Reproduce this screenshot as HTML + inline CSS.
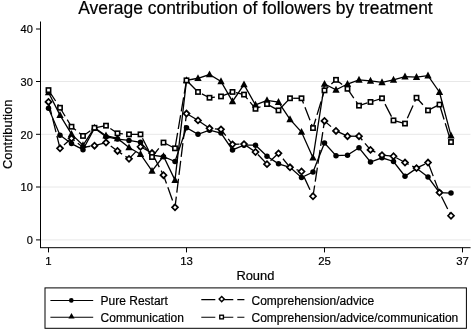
<!DOCTYPE html>
<html><head><meta charset="utf-8"><style>
html,body{margin:0;padding:0;background:#fff;}
text{stroke:#000;stroke-width:0.2px;}
svg{display:block;will-change:transform;transform:translateZ(0);font-family:"Liberation Sans",sans-serif;fill:#000;}
</style></head><body>
<svg width="472" height="331" viewBox="0 0 472 331">
<rect width="472" height="331" fill="#fff"/>
<line x1="41" y1="239.90" x2="470.5" y2="239.90" stroke="#e8e8e8" stroke-width="1"/>
<line x1="41" y1="187.00" x2="470.5" y2="187.00" stroke="#e8e8e8" stroke-width="1"/>
<line x1="41" y1="134.30" x2="470.5" y2="134.30" stroke="#e8e8e8" stroke-width="1"/>
<line x1="41" y1="81.50" x2="470.5" y2="81.50" stroke="#e8e8e8" stroke-width="1"/>
<polyline points="48.50,108.28 60.00,135.15 71.50,143.58 83.00,149.64 94.50,128.30 106.00,136.73 117.50,139.10 129.00,140.42 140.50,142.26 152.00,155.17 163.50,156.75 175.00,161.50 186.50,127.78 198.00,134.36 209.50,130.15 221.00,133.04 232.50,149.90 244.00,145.16 255.50,145.16 267.00,156.23 278.50,163.87 290.00,167.29 301.50,177.57 313.00,172.03 324.50,143.06 336.00,155.70 347.50,155.17 359.00,147.80 370.50,162.02 382.00,157.81 393.50,161.50 405.00,176.25 416.50,168.34 428.00,177.04 439.50,192.58 451.00,193.11" fill="none" stroke="#000" stroke-width="1.3"/>
<circle cx="48.50" cy="108.28" r="2.75" fill="#000"/>
<circle cx="60.00" cy="135.15" r="2.75" fill="#000"/>
<circle cx="71.50" cy="143.58" r="2.75" fill="#000"/>
<circle cx="83.00" cy="149.64" r="2.75" fill="#000"/>
<circle cx="94.50" cy="128.30" r="2.75" fill="#000"/>
<circle cx="106.00" cy="136.73" r="2.75" fill="#000"/>
<circle cx="117.50" cy="139.10" r="2.75" fill="#000"/>
<circle cx="129.00" cy="140.42" r="2.75" fill="#000"/>
<circle cx="140.50" cy="142.26" r="2.75" fill="#000"/>
<circle cx="152.00" cy="155.17" r="2.75" fill="#000"/>
<circle cx="163.50" cy="156.75" r="2.75" fill="#000"/>
<circle cx="175.00" cy="161.50" r="2.75" fill="#000"/>
<circle cx="186.50" cy="127.78" r="2.75" fill="#000"/>
<circle cx="198.00" cy="134.36" r="2.75" fill="#000"/>
<circle cx="209.50" cy="130.15" r="2.75" fill="#000"/>
<circle cx="221.00" cy="133.04" r="2.75" fill="#000"/>
<circle cx="232.50" cy="149.90" r="2.75" fill="#000"/>
<circle cx="244.00" cy="145.16" r="2.75" fill="#000"/>
<circle cx="255.50" cy="145.16" r="2.75" fill="#000"/>
<circle cx="267.00" cy="156.23" r="2.75" fill="#000"/>
<circle cx="278.50" cy="163.87" r="2.75" fill="#000"/>
<circle cx="290.00" cy="167.29" r="2.75" fill="#000"/>
<circle cx="301.50" cy="177.57" r="2.75" fill="#000"/>
<circle cx="313.00" cy="172.03" r="2.75" fill="#000"/>
<circle cx="324.50" cy="143.06" r="2.75" fill="#000"/>
<circle cx="336.00" cy="155.70" r="2.75" fill="#000"/>
<circle cx="347.50" cy="155.17" r="2.75" fill="#000"/>
<circle cx="359.00" cy="147.80" r="2.75" fill="#000"/>
<circle cx="370.50" cy="162.02" r="2.75" fill="#000"/>
<circle cx="382.00" cy="157.81" r="2.75" fill="#000"/>
<circle cx="393.50" cy="161.50" r="2.75" fill="#000"/>
<circle cx="405.00" cy="176.25" r="2.75" fill="#000"/>
<circle cx="416.50" cy="168.34" r="2.75" fill="#000"/>
<circle cx="428.00" cy="177.04" r="2.75" fill="#000"/>
<circle cx="439.50" cy="192.58" r="2.75" fill="#000"/>
<circle cx="451.00" cy="193.11" r="2.75" fill="#000"/>
<polyline points="48.50,92.47 60.00,115.13 71.50,134.10 83.00,145.32 94.50,127.78 106.00,135.68 117.50,138.42 129.00,147.53 140.50,154.12 152.00,170.98 163.50,156.23 175.00,180.09 186.50,80.36 198.00,78.25 209.50,74.56 221.00,81.41 232.50,101.43 244.00,84.57 255.50,104.96 267.00,100.38 278.50,102.12 290.00,119.35 301.50,131.99 313.00,157.81 324.50,84.04 336.00,89.84 347.50,84.04 359.00,79.83 370.50,80.88 382.00,82.46 393.50,79.83 405.00,76.67 416.50,77.20 428.00,75.62 439.50,92.21 451.00,135.68" fill="none" stroke="#000" stroke-width="1.3"/>
<path d="M44.85,95.27 L52.15,95.27 L48.50,88.38 Z" fill="#000"/>
<path d="M56.35,117.93 L63.65,117.93 L60.00,111.03 Z" fill="#000"/>
<path d="M67.85,136.90 L75.15,136.90 L71.50,130.00 Z" fill="#000"/>
<path d="M79.35,148.12 L86.65,148.12 L83.00,141.22 Z" fill="#000"/>
<path d="M90.85,130.58 L98.15,130.58 L94.50,123.68 Z" fill="#000"/>
<path d="M102.35,138.48 L109.65,138.48 L106.00,131.58 Z" fill="#000"/>
<path d="M113.85,141.22 L121.15,141.22 L117.50,134.32 Z" fill="#000"/>
<path d="M125.35,150.33 L132.65,150.33 L129.00,143.43 Z" fill="#000"/>
<path d="M136.85,156.92 L144.15,156.92 L140.50,150.02 Z" fill="#000"/>
<path d="M148.35,173.78 L155.65,173.78 L152.00,166.88 Z" fill="#000"/>
<path d="M159.85,159.03 L167.15,159.03 L163.50,152.13 Z" fill="#000"/>
<path d="M171.35,182.89 L178.65,182.89 L175.00,175.99 Z" fill="#000"/>
<path d="M182.85,83.16 L190.15,83.16 L186.50,76.26 Z" fill="#000"/>
<path d="M194.35,81.05 L201.65,81.05 L198.00,74.15 Z" fill="#000"/>
<path d="M205.85,77.36 L213.15,77.36 L209.50,70.46 Z" fill="#000"/>
<path d="M217.35,84.21 L224.65,84.21 L221.00,77.31 Z" fill="#000"/>
<path d="M228.85,104.23 L236.15,104.23 L232.50,97.33 Z" fill="#000"/>
<path d="M240.35,87.37 L247.65,87.37 L244.00,80.47 Z" fill="#000"/>
<path d="M251.85,107.76 L259.15,107.76 L255.50,100.86 Z" fill="#000"/>
<path d="M263.35,103.18 L270.65,103.18 L267.00,96.28 Z" fill="#000"/>
<path d="M274.85,104.92 L282.15,104.92 L278.50,98.02 Z" fill="#000"/>
<path d="M286.35,122.15 L293.65,122.15 L290.00,115.25 Z" fill="#000"/>
<path d="M297.85,134.79 L305.15,134.79 L301.50,127.89 Z" fill="#000"/>
<path d="M309.35,160.61 L316.65,160.61 L313.00,153.71 Z" fill="#000"/>
<path d="M320.85,86.84 L328.15,86.84 L324.50,79.94 Z" fill="#000"/>
<path d="M332.35,92.64 L339.65,92.64 L336.00,85.74 Z" fill="#000"/>
<path d="M343.85,86.84 L351.15,86.84 L347.50,79.94 Z" fill="#000"/>
<path d="M355.35,82.63 L362.65,82.63 L359.00,75.73 Z" fill="#000"/>
<path d="M366.85,83.68 L374.15,83.68 L370.50,76.78 Z" fill="#000"/>
<path d="M378.35,85.26 L385.65,85.26 L382.00,78.36 Z" fill="#000"/>
<path d="M389.85,82.63 L397.15,82.63 L393.50,75.73 Z" fill="#000"/>
<path d="M401.35,79.47 L408.65,79.47 L405.00,72.57 Z" fill="#000"/>
<path d="M412.85,80.00 L420.15,80.00 L416.50,73.10 Z" fill="#000"/>
<path d="M424.35,78.42 L431.65,78.42 L428.00,71.52 Z" fill="#000"/>
<path d="M435.85,95.01 L443.15,95.01 L439.50,88.11 Z" fill="#000"/>
<path d="M447.35,138.48 L454.65,138.48 L451.00,131.58 Z" fill="#000"/>
<line x1="48.50" y1="101.96" x2="60.00" y2="148.32" stroke="#000" stroke-width="1.3" stroke-dasharray="14 4" stroke-dashoffset="1.00"/>
<line x1="60.00" y1="148.32" x2="71.50" y2="138.31" stroke="#000" stroke-width="1.3" stroke-dasharray="14 4" stroke-dashoffset="12.77"/>
<line x1="71.50" y1="138.31" x2="83.00" y2="147.27" stroke="#000" stroke-width="1.3" stroke-dasharray="14 4" stroke-dashoffset="10.02"/>
<line x1="83.00" y1="147.27" x2="94.50" y2="145.69" stroke="#000" stroke-width="1.3" stroke-dasharray="14 4" stroke-dashoffset="6.59"/>
<line x1="94.50" y1="145.69" x2="106.00" y2="142.53" stroke="#000" stroke-width="1.3" stroke-dasharray="14 4" stroke-dashoffset="0.20"/>
<line x1="106.00" y1="142.53" x2="117.50" y2="150.96" stroke="#000" stroke-width="1.3" stroke-dasharray="14 4" stroke-dashoffset="12.13"/>
<line x1="117.50" y1="150.96" x2="129.00" y2="158.86" stroke="#000" stroke-width="1.3" stroke-dasharray="14 4" stroke-dashoffset="8.39"/>
<line x1="129.00" y1="158.86" x2="140.50" y2="146.74" stroke="#000" stroke-width="1.3" stroke-dasharray="14 4" stroke-dashoffset="4.34"/>
<line x1="140.50" y1="146.74" x2="152.00" y2="153.07" stroke="#000" stroke-width="1.3" stroke-dasharray="14 4" stroke-dashoffset="3.05"/>
<line x1="152.00" y1="153.07" x2="163.50" y2="175.19" stroke="#000" stroke-width="1.3" stroke-dasharray="14 4" stroke-dashoffset="16.17"/>
<line x1="163.50" y1="175.19" x2="175.00" y2="207.33" stroke="#000" stroke-width="1.3" stroke-dasharray="14 4" stroke-dashoffset="5.11"/>
<line x1="175.00" y1="207.33" x2="186.50" y2="113.55" stroke="#000" stroke-width="1.3" stroke-dasharray="14 4" stroke-dashoffset="3.24"/>
<line x1="186.50" y1="113.55" x2="198.00" y2="120.40" stroke="#000" stroke-width="1.3" stroke-dasharray="14 4" stroke-dashoffset="3.23"/>
<line x1="198.00" y1="120.40" x2="209.50" y2="128.30" stroke="#000" stroke-width="1.3" stroke-dasharray="14 4" stroke-dashoffset="16.62"/>
<line x1="209.50" y1="128.30" x2="221.00" y2="129.36" stroke="#000" stroke-width="1.3" stroke-dasharray="14 4" stroke-dashoffset="12.57"/>
<line x1="221.00" y1="129.36" x2="232.50" y2="144.37" stroke="#000" stroke-width="1.3" stroke-dasharray="14 4" stroke-dashoffset="6.12"/>
<line x1="232.50" y1="144.37" x2="244.00" y2="144.11" stroke="#000" stroke-width="1.3" stroke-dasharray="14 4" stroke-dashoffset="7.03"/>
<line x1="244.00" y1="144.11" x2="255.50" y2="152.01" stroke="#000" stroke-width="1.3" stroke-dasharray="14 4" stroke-dashoffset="0.53"/>
<line x1="255.50" y1="152.01" x2="267.00" y2="164.13" stroke="#000" stroke-width="1.3" stroke-dasharray="14 4" stroke-dashoffset="14.49"/>
<line x1="267.00" y1="164.13" x2="278.50" y2="153.33" stroke="#000" stroke-width="1.3" stroke-dasharray="14 4" stroke-dashoffset="13.19"/>
<line x1="278.50" y1="153.33" x2="290.00" y2="167.29" stroke="#000" stroke-width="1.3" stroke-dasharray="14 4" stroke-dashoffset="10.97"/>
<line x1="290.00" y1="167.29" x2="301.50" y2="171.51" stroke="#000" stroke-width="1.3" stroke-dasharray="14 4" stroke-dashoffset="11.06"/>
<line x1="301.50" y1="171.51" x2="313.00" y2="196.27" stroke="#000" stroke-width="1.3" stroke-dasharray="14 4" stroke-dashoffset="11.81"/>
<line x1="313.00" y1="196.27" x2="324.50" y2="120.93" stroke="#000" stroke-width="1.3" stroke-dasharray="14 4" stroke-dashoffset="3.11"/>
<line x1="324.50" y1="120.93" x2="336.00" y2="130.94" stroke="#000" stroke-width="1.3" stroke-dasharray="14 4" stroke-dashoffset="5.33"/>
<line x1="336.00" y1="130.94" x2="347.50" y2="136.21" stroke="#000" stroke-width="1.3" stroke-dasharray="14 4" stroke-dashoffset="2.57"/>
<line x1="347.50" y1="136.21" x2="359.00" y2="136.21" stroke="#000" stroke-width="1.3" stroke-dasharray="14 4" stroke-dashoffset="15.22"/>
<line x1="359.00" y1="136.21" x2="370.50" y2="149.90" stroke="#000" stroke-width="1.3" stroke-dasharray="14 4" stroke-dashoffset="8.72"/>
<line x1="370.50" y1="149.90" x2="382.00" y2="155.17" stroke="#000" stroke-width="1.3" stroke-dasharray="14 4" stroke-dashoffset="8.61"/>
<line x1="382.00" y1="155.17" x2="393.50" y2="156.23" stroke="#000" stroke-width="1.3" stroke-dasharray="14 4" stroke-dashoffset="3.26"/>
<line x1="393.50" y1="156.23" x2="405.00" y2="162.55" stroke="#000" stroke-width="1.3" stroke-dasharray="14 4" stroke-dashoffset="14.81"/>
<line x1="405.00" y1="162.55" x2="416.50" y2="168.08" stroke="#000" stroke-width="1.3" stroke-dasharray="14 4" stroke-dashoffset="9.93"/>
<line x1="416.50" y1="168.08" x2="428.00" y2="162.55" stroke="#000" stroke-width="1.3" stroke-dasharray="14 4" stroke-dashoffset="4.69"/>
<line x1="428.00" y1="162.55" x2="439.50" y2="192.58" stroke="#000" stroke-width="1.3" stroke-dasharray="14 4" stroke-dashoffset="17.45"/>
<line x1="439.50" y1="192.58" x2="451.00" y2="215.76" stroke="#000" stroke-width="1.3" stroke-dasharray="14 4" stroke-dashoffset="13.61"/>
<path d="M45.50,101.96 L48.50,98.96 L51.50,101.96 L48.50,104.96 Z" fill="#fff" stroke="#000" stroke-width="1.70"/>
<path d="M57.00,148.32 L60.00,145.32 L63.00,148.32 L60.00,151.32 Z" fill="#fff" stroke="#000" stroke-width="1.70"/>
<path d="M68.50,138.31 L71.50,135.31 L74.50,138.31 L71.50,141.31 Z" fill="#fff" stroke="#000" stroke-width="1.70"/>
<path d="M91.50,145.69 L94.50,142.69 L97.50,145.69 L94.50,148.69 Z" fill="#fff" stroke="#000" stroke-width="1.70"/>
<path d="M103.00,142.53 L106.00,139.53 L109.00,142.53 L106.00,145.53 Z" fill="#fff" stroke="#000" stroke-width="1.70"/>
<path d="M114.50,150.96 L117.50,147.96 L120.50,150.96 L117.50,153.96 Z" fill="#fff" stroke="#000" stroke-width="1.70"/>
<path d="M126.00,158.86 L129.00,155.86 L132.00,158.86 L129.00,161.86 Z" fill="#fff" stroke="#000" stroke-width="1.70"/>
<path d="M137.50,146.74 L140.50,143.74 L143.50,146.74 L140.50,149.74 Z" fill="#fff" stroke="#000" stroke-width="1.70"/>
<path d="M149.00,153.07 L152.00,150.07 L155.00,153.07 L152.00,156.07 Z" fill="#fff" stroke="#000" stroke-width="1.70"/>
<path d="M160.50,175.19 L163.50,172.19 L166.50,175.19 L163.50,178.19 Z" fill="#fff" stroke="#000" stroke-width="1.70"/>
<path d="M172.00,207.33 L175.00,204.33 L178.00,207.33 L175.00,210.33 Z" fill="#fff" stroke="#000" stroke-width="1.70"/>
<path d="M183.50,113.55 L186.50,110.55 L189.50,113.55 L186.50,116.55 Z" fill="#fff" stroke="#000" stroke-width="1.70"/>
<path d="M195.00,120.40 L198.00,117.40 L201.00,120.40 L198.00,123.40 Z" fill="#fff" stroke="#000" stroke-width="1.70"/>
<path d="M206.50,128.30 L209.50,125.30 L212.50,128.30 L209.50,131.30 Z" fill="#fff" stroke="#000" stroke-width="1.70"/>
<path d="M218.00,129.36 L221.00,126.36 L224.00,129.36 L221.00,132.36 Z" fill="#fff" stroke="#000" stroke-width="1.70"/>
<path d="M229.50,144.37 L232.50,141.37 L235.50,144.37 L232.50,147.37 Z" fill="#fff" stroke="#000" stroke-width="1.70"/>
<path d="M241.00,144.11 L244.00,141.11 L247.00,144.11 L244.00,147.11 Z" fill="#fff" stroke="#000" stroke-width="1.70"/>
<path d="M252.50,152.01 L255.50,149.01 L258.50,152.01 L255.50,155.01 Z" fill="#fff" stroke="#000" stroke-width="1.70"/>
<path d="M264.00,164.13 L267.00,161.13 L270.00,164.13 L267.00,167.13 Z" fill="#fff" stroke="#000" stroke-width="1.70"/>
<path d="M275.50,153.33 L278.50,150.33 L281.50,153.33 L278.50,156.33 Z" fill="#fff" stroke="#000" stroke-width="1.70"/>
<path d="M287.00,167.29 L290.00,164.29 L293.00,167.29 L290.00,170.29 Z" fill="#fff" stroke="#000" stroke-width="1.70"/>
<path d="M298.50,171.51 L301.50,168.51 L304.50,171.51 L301.50,174.51 Z" fill="#fff" stroke="#000" stroke-width="1.70"/>
<path d="M310.00,196.27 L313.00,193.27 L316.00,196.27 L313.00,199.27 Z" fill="#fff" stroke="#000" stroke-width="1.70"/>
<path d="M321.50,120.93 L324.50,117.93 L327.50,120.93 L324.50,123.93 Z" fill="#fff" stroke="#000" stroke-width="1.70"/>
<path d="M333.00,130.94 L336.00,127.94 L339.00,130.94 L336.00,133.94 Z" fill="#fff" stroke="#000" stroke-width="1.70"/>
<path d="M344.50,136.21 L347.50,133.21 L350.50,136.21 L347.50,139.21 Z" fill="#fff" stroke="#000" stroke-width="1.70"/>
<path d="M356.00,136.21 L359.00,133.21 L362.00,136.21 L359.00,139.21 Z" fill="#fff" stroke="#000" stroke-width="1.70"/>
<path d="M367.50,149.90 L370.50,146.90 L373.50,149.90 L370.50,152.90 Z" fill="#fff" stroke="#000" stroke-width="1.70"/>
<path d="M379.00,155.17 L382.00,152.17 L385.00,155.17 L382.00,158.17 Z" fill="#fff" stroke="#000" stroke-width="1.70"/>
<path d="M390.50,156.23 L393.50,153.23 L396.50,156.23 L393.50,159.23 Z" fill="#fff" stroke="#000" stroke-width="1.70"/>
<path d="M402.00,162.55 L405.00,159.55 L408.00,162.55 L405.00,165.55 Z" fill="#fff" stroke="#000" stroke-width="1.70"/>
<path d="M413.50,168.08 L416.50,165.08 L419.50,168.08 L416.50,171.08 Z" fill="#fff" stroke="#000" stroke-width="1.70"/>
<path d="M425.00,162.55 L428.00,159.55 L431.00,162.55 L428.00,165.55 Z" fill="#fff" stroke="#000" stroke-width="1.70"/>
<path d="M436.50,192.58 L439.50,189.58 L442.50,192.58 L439.50,195.58 Z" fill="#fff" stroke="#000" stroke-width="1.70"/>
<path d="M448.00,215.76 L451.00,212.76 L454.00,215.76 L451.00,218.76 Z" fill="#fff" stroke="#000" stroke-width="1.70"/>
<line x1="48.50" y1="90.10" x2="60.00" y2="107.75" stroke="#000" stroke-width="1.3" stroke-dasharray="14 4" stroke-dashoffset="1.00"/>
<line x1="60.00" y1="107.75" x2="71.50" y2="126.72" stroke="#000" stroke-width="1.3" stroke-dasharray="14 4" stroke-dashoffset="4.07"/>
<line x1="71.50" y1="126.72" x2="83.00" y2="135.94" stroke="#000" stroke-width="1.3" stroke-dasharray="14 4" stroke-dashoffset="8.25"/>
<line x1="83.00" y1="135.94" x2="94.50" y2="127.78" stroke="#000" stroke-width="1.3" stroke-dasharray="14 4" stroke-dashoffset="4.99"/>
<line x1="94.50" y1="127.78" x2="106.00" y2="125.67" stroke="#000" stroke-width="1.3" stroke-dasharray="14 4" stroke-dashoffset="1.09"/>
<line x1="106.00" y1="125.67" x2="117.50" y2="133.31" stroke="#000" stroke-width="1.3" stroke-dasharray="14 4" stroke-dashoffset="12.78"/>
<line x1="117.50" y1="133.31" x2="129.00" y2="134.36" stroke="#000" stroke-width="1.3" stroke-dasharray="14 4" stroke-dashoffset="8.59"/>
<line x1="129.00" y1="134.36" x2="140.50" y2="134.36" stroke="#000" stroke-width="1.3" stroke-dasharray="14 4" stroke-dashoffset="2.14"/>
<line x1="140.50" y1="134.36" x2="152.00" y2="157.02" stroke="#000" stroke-width="1.3" stroke-dasharray="14 4" stroke-dashoffset="13.64"/>
<line x1="152.00" y1="157.02" x2="163.50" y2="142.53" stroke="#000" stroke-width="1.3" stroke-dasharray="14 4" stroke-dashoffset="3.05"/>
<line x1="163.50" y1="142.53" x2="175.00" y2="148.32" stroke="#000" stroke-width="1.3" stroke-dasharray="14 4" stroke-dashoffset="3.54"/>
<line x1="175.00" y1="148.32" x2="186.50" y2="80.36" stroke="#000" stroke-width="1.3" stroke-dasharray="14 4" stroke-dashoffset="16.42"/>
<line x1="186.50" y1="80.36" x2="198.00" y2="91.95" stroke="#000" stroke-width="1.3" stroke-dasharray="14 4" stroke-dashoffset="15.35"/>
<line x1="198.00" y1="91.95" x2="209.50" y2="97.74" stroke="#000" stroke-width="1.3" stroke-dasharray="14 4" stroke-dashoffset="13.68"/>
<line x1="209.50" y1="97.74" x2="221.00" y2="96.43" stroke="#000" stroke-width="1.3" stroke-dasharray="14 4" stroke-dashoffset="8.56"/>
<line x1="221.00" y1="96.43" x2="232.50" y2="91.95" stroke="#000" stroke-width="1.3" stroke-dasharray="14 4" stroke-dashoffset="2.14"/>
<line x1="232.50" y1="91.95" x2="244.00" y2="94.58" stroke="#000" stroke-width="1.3" stroke-dasharray="14 4" stroke-dashoffset="14.48"/>
<line x1="244.00" y1="94.58" x2="255.50" y2="108.81" stroke="#000" stroke-width="1.3" stroke-dasharray="14 4" stroke-dashoffset="8.27"/>
<line x1="255.50" y1="108.81" x2="267.00" y2="104.07" stroke="#000" stroke-width="1.3" stroke-dasharray="14 4" stroke-dashoffset="8.57"/>
<line x1="267.00" y1="104.07" x2="278.50" y2="110.39" stroke="#000" stroke-width="1.3" stroke-dasharray="14 4" stroke-dashoffset="3.01"/>
<line x1="278.50" y1="110.39" x2="290.00" y2="98.27" stroke="#000" stroke-width="1.3" stroke-dasharray="14 4" stroke-dashoffset="16.13"/>
<line x1="290.00" y1="98.27" x2="301.50" y2="98.27" stroke="#000" stroke-width="1.3" stroke-dasharray="14 4" stroke-dashoffset="14.84"/>
<line x1="301.50" y1="98.27" x2="313.00" y2="128.04" stroke="#000" stroke-width="1.3" stroke-dasharray="14 4" stroke-dashoffset="8.34"/>
<line x1="313.00" y1="128.04" x2="324.50" y2="90.37" stroke="#000" stroke-width="1.3" stroke-dasharray="14 4" stroke-dashoffset="4.25"/>
<line x1="324.50" y1="90.37" x2="336.00" y2="79.83" stroke="#000" stroke-width="1.3" stroke-dasharray="14 4" stroke-dashoffset="8.64"/>
<line x1="336.00" y1="79.83" x2="347.50" y2="88.79" stroke="#000" stroke-width="1.3" stroke-dasharray="14 4" stroke-dashoffset="6.23"/>
<line x1="347.50" y1="88.79" x2="359.00" y2="105.65" stroke="#000" stroke-width="1.3" stroke-dasharray="14 4" stroke-dashoffset="2.81"/>
<line x1="359.00" y1="105.65" x2="370.50" y2="101.96" stroke="#000" stroke-width="1.3" stroke-dasharray="14 4" stroke-dashoffset="5.22"/>
<line x1="370.50" y1="101.96" x2="382.00" y2="98.27" stroke="#000" stroke-width="1.3" stroke-dasharray="14 4" stroke-dashoffset="17.30"/>
<line x1="382.00" y1="98.27" x2="393.50" y2="120.40" stroke="#000" stroke-width="1.3" stroke-dasharray="14 4" stroke-dashoffset="11.37"/>
<line x1="393.50" y1="120.40" x2="405.00" y2="123.56" stroke="#000" stroke-width="1.3" stroke-dasharray="14 4" stroke-dashoffset="0.31"/>
<line x1="405.00" y1="123.56" x2="416.50" y2="97.74" stroke="#000" stroke-width="1.3" stroke-dasharray="14 4" stroke-dashoffset="12.24"/>
<line x1="416.50" y1="97.74" x2="428.00" y2="110.39" stroke="#000" stroke-width="1.3" stroke-dasharray="14 4" stroke-dashoffset="4.50"/>
<line x1="428.00" y1="110.39" x2="439.50" y2="104.59" stroke="#000" stroke-width="1.3" stroke-dasharray="14 4" stroke-dashoffset="3.59"/>
<line x1="439.50" y1="104.59" x2="451.00" y2="142.00" stroke="#000" stroke-width="1.3" stroke-dasharray="14 4" stroke-dashoffset="16.47"/>
<rect x="46.35" y="87.95" width="4.30" height="4.30" fill="#fff" stroke="#000" stroke-width="1.60"/>
<rect x="57.85" y="105.60" width="4.30" height="4.30" fill="#fff" stroke="#000" stroke-width="1.60"/>
<rect x="69.35" y="124.57" width="4.30" height="4.30" fill="#fff" stroke="#000" stroke-width="1.60"/>
<rect x="80.85" y="133.79" width="4.30" height="4.30" fill="#fff" stroke="#000" stroke-width="1.60"/>
<rect x="92.35" y="125.63" width="4.30" height="4.30" fill="#fff" stroke="#000" stroke-width="1.60"/>
<rect x="103.85" y="123.52" width="4.30" height="4.30" fill="#fff" stroke="#000" stroke-width="1.60"/>
<rect x="115.35" y="131.16" width="4.30" height="4.30" fill="#fff" stroke="#000" stroke-width="1.60"/>
<rect x="126.85" y="132.21" width="4.30" height="4.30" fill="#fff" stroke="#000" stroke-width="1.60"/>
<rect x="138.35" y="132.21" width="4.30" height="4.30" fill="#fff" stroke="#000" stroke-width="1.60"/>
<rect x="149.85" y="154.87" width="4.30" height="4.30" fill="#fff" stroke="#000" stroke-width="1.60"/>
<rect x="161.35" y="140.38" width="4.30" height="4.30" fill="#fff" stroke="#000" stroke-width="1.60"/>
<rect x="172.85" y="146.17" width="4.30" height="4.30" fill="#fff" stroke="#000" stroke-width="1.60"/>
<rect x="184.35" y="78.21" width="4.30" height="4.30" fill="#fff" stroke="#000" stroke-width="1.60"/>
<rect x="195.85" y="89.80" width="4.30" height="4.30" fill="#fff" stroke="#000" stroke-width="1.60"/>
<rect x="207.35" y="95.59" width="4.30" height="4.30" fill="#fff" stroke="#000" stroke-width="1.60"/>
<rect x="218.85" y="94.28" width="4.30" height="4.30" fill="#fff" stroke="#000" stroke-width="1.60"/>
<rect x="230.35" y="89.80" width="4.30" height="4.30" fill="#fff" stroke="#000" stroke-width="1.60"/>
<rect x="241.85" y="92.43" width="4.30" height="4.30" fill="#fff" stroke="#000" stroke-width="1.60"/>
<rect x="253.35" y="106.66" width="4.30" height="4.30" fill="#fff" stroke="#000" stroke-width="1.60"/>
<rect x="264.85" y="101.92" width="4.30" height="4.30" fill="#fff" stroke="#000" stroke-width="1.60"/>
<rect x="276.35" y="108.24" width="4.30" height="4.30" fill="#fff" stroke="#000" stroke-width="1.60"/>
<rect x="287.85" y="96.12" width="4.30" height="4.30" fill="#fff" stroke="#000" stroke-width="1.60"/>
<rect x="299.35" y="96.12" width="4.30" height="4.30" fill="#fff" stroke="#000" stroke-width="1.60"/>
<rect x="310.85" y="125.89" width="4.30" height="4.30" fill="#fff" stroke="#000" stroke-width="1.60"/>
<rect x="322.35" y="88.22" width="4.30" height="4.30" fill="#fff" stroke="#000" stroke-width="1.60"/>
<rect x="333.85" y="77.68" width="4.30" height="4.30" fill="#fff" stroke="#000" stroke-width="1.60"/>
<rect x="345.35" y="86.64" width="4.30" height="4.30" fill="#fff" stroke="#000" stroke-width="1.60"/>
<rect x="356.85" y="103.50" width="4.30" height="4.30" fill="#fff" stroke="#000" stroke-width="1.60"/>
<rect x="368.35" y="99.81" width="4.30" height="4.30" fill="#fff" stroke="#000" stroke-width="1.60"/>
<rect x="379.85" y="96.12" width="4.30" height="4.30" fill="#fff" stroke="#000" stroke-width="1.60"/>
<rect x="391.35" y="118.25" width="4.30" height="4.30" fill="#fff" stroke="#000" stroke-width="1.60"/>
<rect x="402.85" y="121.41" width="4.30" height="4.30" fill="#fff" stroke="#000" stroke-width="1.60"/>
<rect x="414.35" y="95.59" width="4.30" height="4.30" fill="#fff" stroke="#000" stroke-width="1.60"/>
<rect x="425.85" y="108.24" width="4.30" height="4.30" fill="#fff" stroke="#000" stroke-width="1.60"/>
<rect x="437.35" y="102.44" width="4.30" height="4.30" fill="#fff" stroke="#000" stroke-width="1.60"/>
<rect x="448.85" y="139.85" width="4.30" height="4.30" fill="#fff" stroke="#000" stroke-width="1.60"/>
<line x1="40.5" y1="21.5" x2="40.5" y2="248" stroke="#000" stroke-width="1"/>
<line x1="40" y1="247.7" x2="470.6" y2="247.7" stroke="#000" stroke-width="1"/>
<line x1="36" y1="239.90" x2="40.5" y2="239.90" stroke="#000" stroke-width="1"/>
<text x="32.8" y="244.20" text-anchor="end" font-size="11">0</text>
<line x1="36" y1="187.00" x2="40.5" y2="187.00" stroke="#000" stroke-width="1"/>
<text x="32.8" y="191.30" text-anchor="end" font-size="11">10</text>
<line x1="36" y1="134.30" x2="40.5" y2="134.30" stroke="#000" stroke-width="1"/>
<text x="32.8" y="138.60" text-anchor="end" font-size="11">20</text>
<line x1="36" y1="81.50" x2="40.5" y2="81.50" stroke="#000" stroke-width="1"/>
<text x="32.8" y="85.80" text-anchor="end" font-size="11">30</text>
<line x1="36" y1="29.00" x2="40.5" y2="29.00" stroke="#000" stroke-width="1"/>
<text x="32.8" y="33.30" text-anchor="end" font-size="11">40</text>
<line x1="48.50" y1="247.7" x2="48.50" y2="252.4" stroke="#000" stroke-width="1"/>
<text x="48.50" y="264.5" text-anchor="middle" font-size="11.4">1</text>
<line x1="186.50" y1="247.7" x2="186.50" y2="252.4" stroke="#000" stroke-width="1"/>
<text x="186.50" y="264.5" text-anchor="middle" font-size="11.4">13</text>
<line x1="324.50" y1="247.7" x2="324.50" y2="252.4" stroke="#000" stroke-width="1"/>
<text x="324.50" y="264.5" text-anchor="middle" font-size="11.4">25</text>
<line x1="462.50" y1="247.7" x2="462.50" y2="252.4" stroke="#000" stroke-width="1"/>
<text x="462.50" y="264.5" text-anchor="middle" font-size="11.4">37</text>
<text x="255.5" y="14.4" text-anchor="middle" font-size="17.45" stroke="#000" stroke-width="0.25">Average contribution of followers by treatment</text>
<text x="255.4" y="280.2" text-anchor="middle" font-size="12.9">Round</text>
<text transform="translate(12.3,134.3) rotate(-90)" text-anchor="middle" font-size="12.9">Contribution</text>
<rect x="45" y="287.9" width="421.4" height="40.4" fill="#fff" stroke="#000" stroke-width="1"/>
<line x1="50.4" y1="300.45" x2="93.2" y2="300.45" stroke="#000" stroke-width="1.1"/>
<circle cx="71.30" cy="300.45" r="2.34" fill="#000"/>
<line x1="50.4" y1="317.25" x2="93.2" y2="317.25" stroke="#000" stroke-width="1.1"/>
<path d="M68.4,318.5 L74.6,318.5 L71.5,313.0 Z" fill="#000"/>
<line x1="201.3" y1="299.65" x2="244.4" y2="299.65" stroke="#000" stroke-width="1.1" stroke-dasharray="14 4"/>
<path d="M219.15,299.10 L221.70,296.55 L224.25,299.10 L221.70,301.65 Z" fill="#fff" stroke="#000" stroke-width="1.44"/>
<line x1="201.3" y1="317.25" x2="244.4" y2="317.25" stroke="#000" stroke-width="1.1" stroke-dasharray="14 4"/>
<rect x="219.77" y="315.22" width="3.65" height="3.65" fill="#fff" stroke="#000" stroke-width="1.36"/>
<text x="100.6" y="305.0" font-size="12">Pure Restart</text>
<text x="100.6" y="322.0" font-size="12">Communication</text>
<text x="251.5" y="305.0" font-size="12">Comprehension/advice</text>
<text x="251.5" y="322.0" font-size="12">Comprehension/advice/communication</text>
</svg>
</body></html>
